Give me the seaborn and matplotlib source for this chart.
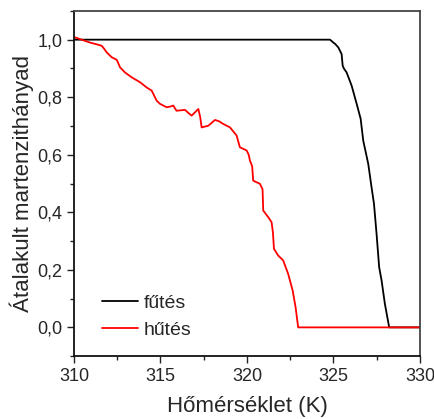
import pandas as pd
import matplotlib.pyplot as plt
import numpy as np
import seaborn as sns

# fűtés (heating) curve
heat_T = [310.0, 324.8, 324.99, 325.1, 325.28, 325.47, 325.53, 325.6, 325.76, 326.05, 326.34, 326.57,
          326.72, 327.01, 327.2, 327.34, 327.49, 327.64, 327.78, 327.97, 328.22, 330.0]
heat_f = [1.0, 1.0, 0.99, 0.985, 0.973, 0.95, 0.91, 0.9, 0.886, 0.84, 0.777, 0.725,
          0.649, 0.568, 0.487, 0.43, 0.325, 0.209, 0.163, 0.082, 0.0, 0.0]

# hűtés (cooling) curve
cool_T = [310.0, 310.06, 310.35, 310.92, 311.3, 311.6, 311.75, 311.89, 312.18, 312.47, 312.55, 312.66,
          312.95, 313.34, 313.82, 314.2, 314.49, 314.6, 314.78, 314.97, 315.36, 315.6, 315.74,
          315.85, 315.93, 316.42, 316.6, 316.8, 317.19, 317.3, 317.38, 317.77, 318.15, 318.4,
          318.63, 319.02, 319.4, 319.59, 319.98, 320.1, 320.17, 320.3, 320.36, 320.75, 320.9,
          320.94, 321.23, 321.42, 321.5, 321.56, 321.8, 322.09, 322.38, 322.64, 322.81, 322.96, 330.0]
cool_f = [1.006, 1.008, 1.002, 0.99, 0.984, 0.979, 0.968, 0.956, 0.939, 0.93, 0.92, 0.904,
          0.886, 0.869, 0.852, 0.834, 0.823, 0.81, 0.788, 0.777, 0.765, 0.768, 0.771,
          0.76, 0.753, 0.756, 0.746, 0.736, 0.759, 0.73, 0.695, 0.701, 0.721, 0.716,
          0.707, 0.695, 0.667, 0.626, 0.615, 0.6, 0.58, 0.56, 0.51, 0.499, 0.48,
          0.406, 0.383, 0.366, 0.33, 0.273, 0.25, 0.233, 0.186, 0.128, 0.07, 0.0, 0.0]

heat_df = pd.DataFrame({"T": heat_T, "f": heat_f})
cool_df = pd.DataFrame({"T": cool_T, "f": cool_f})

sns.set_style("ticks")
plt.rcParams['font.family'] = ['Liberation Sans', 'DejaVu Sans']

fig = plt.figure(figsize=(4.35, 4.19), dpi=100)
ax = fig.add_axes([0.170, 0.150, 0.7955, 0.824])

sns.lineplot(data=heat_df, x="T", y="f", color="black", lw=1.3, label="fűtés", ax=ax,
             estimator=None, sort=False)
sns.lineplot(data=cool_df, x="T", y="f", color="#ff0000", lw=1.3, label="hűtés", ax=ax,
             estimator=None, sort=False)

ax.set_xlim(310, 330)
ax.set_ylim(-0.1, 1.1)
ax.set_xticks([310, 315, 320, 325, 330])
ax.set_xticks(np.arange(312.5, 330, 5), minor=True)
ax.set_yticks([0.0, 0.2, 0.4, 0.6, 0.8, 1.0])
ax.set_yticks(np.arange(-0.1, 1.11, 0.2), minor=True)
ax.set_yticklabels(["0,0", "0,2", "0,4", "0,6", "0,8", "1,0"])
ax.tick_params(axis="both", which="major", labelsize=13, length=5, width=1, direction="out",
               color="#222222")
ax.tick_params(axis="both", which="minor", length=3, width=1, direction="out", color="#222222")

for side in ["top", "right", "left", "bottom"]:
    ax.spines[side].set_visible(True)
    ax.spines[side].set_linewidth(1.3)
ax.spines["left"].set_color("#111111")
ax.spines["bottom"].set_color("#111111")
ax.spines["top"].set_color("#444444")
ax.spines["right"].set_color("#444444")

ax.set_xlabel("Hőmérséklet (K)", fontsize=16, labelpad=8)
ax.set_ylabel("Átalakult martenzithányad", fontsize=16, labelpad=2)

ax.legend(loc="lower left", frameon=False, fontsize=14, handlelength=1.85,
          handletextpad=0.3, labelspacing=0.45, bbox_to_anchor=(0.03, 0.0))

fig.savefig("out.png", dpi=100)
